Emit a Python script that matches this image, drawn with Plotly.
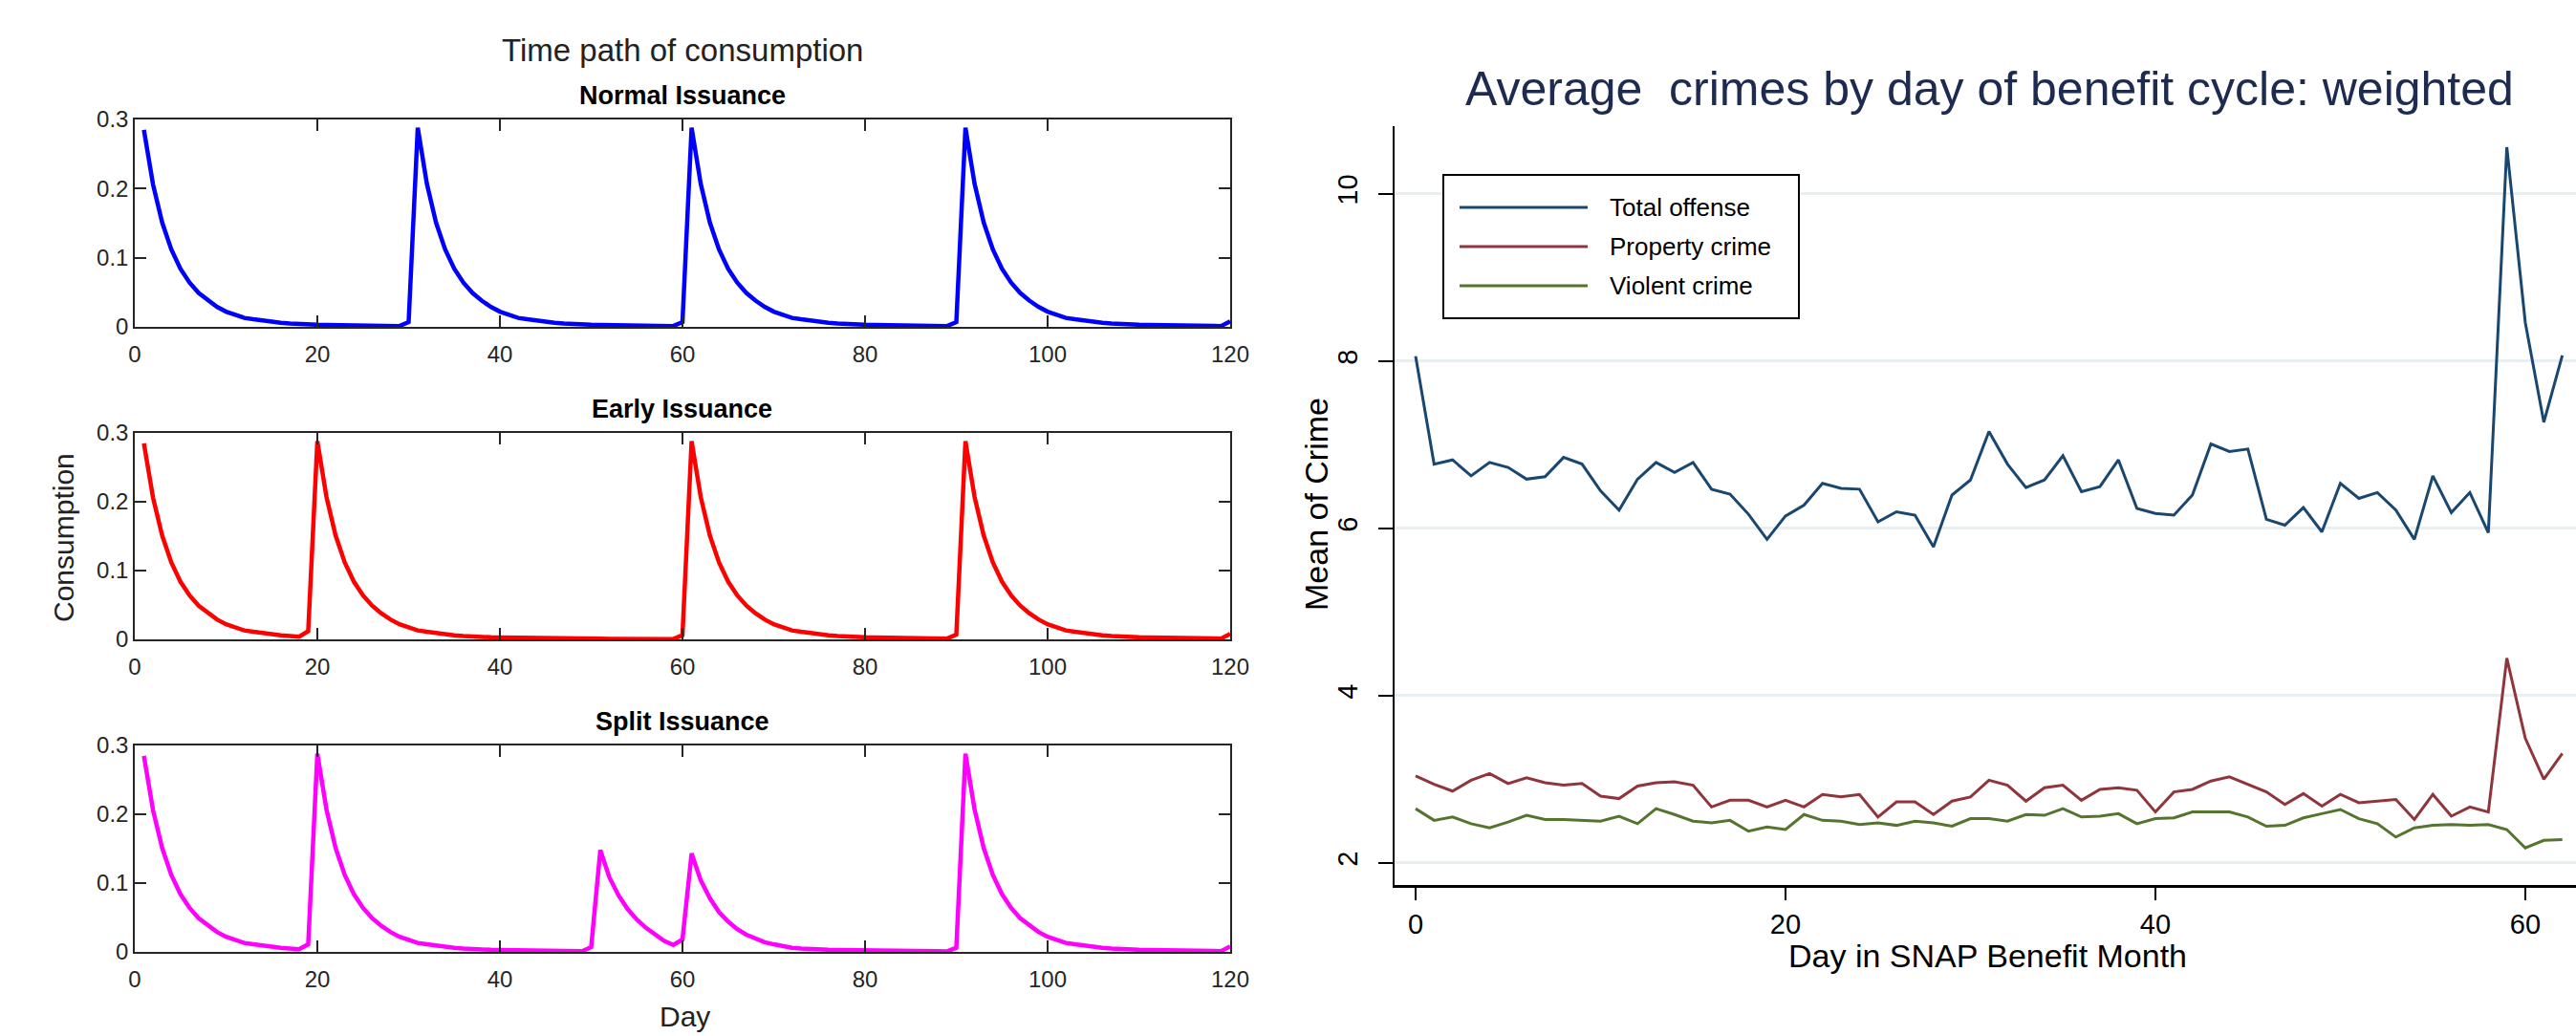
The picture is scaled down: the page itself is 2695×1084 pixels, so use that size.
import plotly.graph_objects as go

# ---------------- Left panel data: consumption paths (days 1..120) ----------------
days = list(range(1, 121))

normal_issuance = [
    0.285, 0.206, 0.151, 0.112, 0.084, 0.064, 0.049, 0.038, 0.029, 0.022,
    0.017, 0.013, 0.011, 0.009, 0.007, 0.006, 0.005, 0.004, 0.0035, 0.003,
    0.0027, 0.0024, 0.0021, 0.0019, 0.0017, 0.0015, 0.0014, 0.0013, 0.0012, 0.007,
    0.288, 0.207, 0.151, 0.112, 0.084, 0.064, 0.049, 0.038, 0.029, 0.022,
    0.017, 0.013, 0.011, 0.009, 0.007, 0.006, 0.005, 0.004, 0.0035, 0.003,
    0.0027, 0.0024, 0.0021, 0.0019, 0.0017, 0.0015, 0.0014, 0.0013, 0.0012, 0.007,
    0.288, 0.207, 0.151, 0.112, 0.084, 0.064, 0.049, 0.038, 0.029, 0.022,
    0.017, 0.013, 0.011, 0.009, 0.007, 0.006, 0.005, 0.004, 0.0035, 0.003,
    0.0027, 0.0024, 0.0021, 0.0019, 0.0017, 0.0015, 0.0014, 0.0013, 0.0012, 0.007,
    0.288, 0.207, 0.151, 0.112, 0.084, 0.064, 0.049, 0.038, 0.029, 0.022,
    0.017, 0.013, 0.011, 0.009, 0.007, 0.006, 0.005, 0.004, 0.0035, 0.003,
    0.0027, 0.0024, 0.0021, 0.0019, 0.0017, 0.0015, 0.0014, 0.0013, 0.0012, 0.008,
]

early_issuance = [
    0.285, 0.206, 0.151, 0.112, 0.084, 0.064, 0.049, 0.038, 0.029, 0.022,
    0.017, 0.013, 0.011, 0.009, 0.007, 0.006, 0.005, 0.004, 0.012,
    0.288, 0.207, 0.151, 0.112, 0.084, 0.064, 0.049, 0.038, 0.029, 0.022,
    0.017, 0.013, 0.011, 0.009, 0.007, 0.006, 0.005, 0.004, 0.0035, 0.003,
    0.0027, 0.0024, 0.0021, 0.0019, 0.0017, 0.0015, 0.0014, 0.0013, 0.0012, 0.0011,
    0.001, 0.0009, 0.0008, 0.0008, 0.0007, 0.0007, 0.0006, 0.0006, 0.0005, 0.0005,
    0.006,
    0.288, 0.207, 0.151, 0.112, 0.084, 0.064, 0.049, 0.038, 0.029, 0.022,
    0.017, 0.013, 0.011, 0.009, 0.007, 0.006, 0.005, 0.004, 0.0035, 0.003,
    0.0027, 0.0024, 0.0021, 0.0019, 0.0017, 0.0015, 0.0014, 0.0013, 0.0012, 0.007,
    0.288, 0.207, 0.151, 0.112, 0.084, 0.064, 0.049, 0.038, 0.029, 0.022,
    0.017, 0.013, 0.011, 0.009, 0.007, 0.006, 0.005, 0.004, 0.0035, 0.003,
    0.0027, 0.0024, 0.0021, 0.0019, 0.0017, 0.0015, 0.0014, 0.0013, 0.0012, 0.008,
]

split_issuance = [
    0.285, 0.206, 0.151, 0.112, 0.084, 0.064, 0.049, 0.038, 0.029, 0.022,
    0.017, 0.013, 0.011, 0.009, 0.007, 0.006, 0.005, 0.004, 0.011,
    0.288, 0.207, 0.151, 0.112, 0.084, 0.064, 0.049, 0.038, 0.029, 0.022,
    0.017, 0.013, 0.011, 0.009, 0.007, 0.006, 0.005, 0.004, 0.0035, 0.003,
    0.0027, 0.0024, 0.0021, 0.0019, 0.0017, 0.0015, 0.0014, 0.0013, 0.0012, 0.0011,
    0.007,
    0.148, 0.108, 0.082, 0.062, 0.047, 0.035, 0.025, 0.016, 0.010, 0.018,
    0.143, 0.104, 0.078, 0.058, 0.044, 0.033, 0.025, 0.019, 0.014, 0.011,
    0.008, 0.006, 0.005, 0.004, 0.0035, 0.003, 0.0027, 0.0024, 0.0021, 0.0019,
    0.0017, 0.0015, 0.0014, 0.0013, 0.0012, 0.0011, 0.001, 0.0009, 0.0008, 0.006,
    0.288, 0.207, 0.151, 0.112, 0.084, 0.064, 0.049, 0.038, 0.029, 0.022,
    0.017, 0.013, 0.011, 0.009, 0.007, 0.006, 0.005, 0.004, 0.0035, 0.003,
    0.0027, 0.0024, 0.0021, 0.0019, 0.0017, 0.0015, 0.0014, 0.0013, 0.0012, 0.008,
]

left_xticks = [0, 20, 40, 60, 80, 100, 120]
left_yticks = [0, 0.1, 0.2, 0.3]
left_yticklabels = ["0", "0.1", "0.2", "0.3"]

# ---------------- Right panel data: average crimes by day (0..62) ----------------
snap_day = list(range(0, 63))

total_offense = [
    8.06, 6.77, 6.82, 6.63, 6.79, 6.73, 6.59, 6.62, 6.85, 6.77,
    6.45, 6.22, 6.59, 6.79, 6.67, 6.79, 6.47, 6.41, 6.17, 5.87,
    6.15, 6.28, 6.54, 6.48, 6.47, 6.08, 6.20, 6.16, 5.78, 6.40,
    6.58, 7.16, 6.77, 6.49, 6.58, 6.87, 6.44, 6.50, 6.82, 6.24,
    6.18, 6.16, 6.40, 7.01, 6.92, 6.95, 6.11, 6.04, 6.25, 5.96,
    6.54, 6.36, 6.43, 6.22, 5.87, 6.63, 6.19, 6.43, 5.95, 10.56,
    8.46, 7.27, 8.07,
]

property_crime = [
    3.04, 2.94, 2.86, 2.99, 3.07, 2.95, 3.02, 2.96, 2.93, 2.95,
    2.80, 2.77, 2.92, 2.96, 2.97, 2.93, 2.67, 2.75, 2.75, 2.67,
    2.75, 2.67, 2.82, 2.79, 2.82, 2.55, 2.73, 2.73, 2.58, 2.74,
    2.79, 2.99, 2.93, 2.74, 2.90, 2.93, 2.75, 2.88, 2.90, 2.87,
    2.61, 2.85, 2.88, 2.98, 3.03, 2.94, 2.85, 2.70, 2.83, 2.68,
    2.82, 2.72, 2.74, 2.76, 2.52, 2.82, 2.56, 2.67, 2.61, 4.45,
    3.49, 3.00, 3.31,
]

violent_crime = [
    2.65, 2.51, 2.55, 2.47, 2.42, 2.49, 2.57, 2.52, 2.52, 2.51,
    2.50, 2.56, 2.47, 2.65, 2.58, 2.50, 2.48, 2.51, 2.38, 2.43,
    2.40, 2.58, 2.51, 2.50, 2.46, 2.48, 2.45, 2.50, 2.48, 2.44,
    2.53, 2.53, 2.50, 2.58, 2.57, 2.65, 2.55, 2.56, 2.59, 2.47,
    2.53, 2.54, 2.61, 2.61, 2.61, 2.55, 2.44, 2.45, 2.54, 2.59,
    2.64, 2.53, 2.47, 2.31, 2.42, 2.45, 2.46, 2.45, 2.46, 2.40,
    2.18, 2.27, 2.28,
]

right_xticks = [0, 20, 40, 60]
right_yticks = [2, 4, 6, 8, 10]
series_names = ["Total offense", "Property crime", "Violent crime"]
series_colors = ["#1a476f", "#90353b", "#55752f"]

FONT = "Liberation Sans, Arial, Helvetica, sans-serif"
W, H = 2695, 1084

fig = go.Figure()

# ---------------- left panel traces ----------------
left_series = [
    (normal_issuance, "#0000ff", "x", "y"),
    (early_issuance, "#ff0000", "x2", "y2"),
    (split_issuance, "#ff00ff", "x3", "y3"),
]
for vals, col, xa, ya in left_series:
    fig.add_trace(go.Scatter(x=days, y=vals, mode="lines",
                             line=dict(color=col, width=4.5),
                             xaxis=xa, yaxis=ya, showlegend=False,
                             hoverinfo="skip"))

# ---------------- right panel traces ----------------
for vals, name, col in zip([total_offense, property_crime, violent_crime],
                           series_names, series_colors):
    fig.add_trace(go.Scatter(x=snap_day, y=vals, mode="lines", name=name,
                             line=dict(color=col, width=3),
                             xaxis="x4", yaxis="y4", showlegend=False))

# ---------------- axes ----------------
axc = "#262626"
lx0, lx1 = 141 / W, 1287 / W


def ydom(top_px, bot_px):
    return [1 - bot_px / H, 1 - top_px / H]


left_x = dict(range=[0, 120], tickvals=left_xticks, ticks="inside", ticklen=12,
              tickwidth=1.5, tickcolor=axc, showline=True, linecolor=axc,
              linewidth=1.5, mirror="ticks", showgrid=False, zeroline=False,
              tickfont=dict(family=FONT, size=24, color=axc), automargin=False,
              ticklabelstandoff=6, domain=[lx0, lx1])
left_y = dict(range=[0, 0.3], tickvals=left_yticks, ticktext=left_yticklabels,
              ticks="inside", ticklen=12, tickwidth=1.5, tickcolor=axc,
              showline=True, linecolor=axc, linewidth=1.5, mirror="ticks",
              showgrid=False, zeroline=False, automargin=False,
              tickfont=dict(family=FONT, size=24, color=axc))

fig.update_layout(
    xaxis=dict(left_x, anchor="y"),
    yaxis=dict(left_y, anchor="x", domain=ydom(125, 342)),
    xaxis2=dict(left_x, anchor="y2"),
    yaxis2=dict(left_y, anchor="x2", domain=ydom(453, 669)),
    xaxis3=dict(left_x, anchor="y3"),
    yaxis3=dict(left_y, anchor="x3", domain=ydom(780, 996)),
    xaxis4=dict(domain=[1459 / W, 1.0], anchor="y4", range=[-1.137, 62.74],
                tickvals=right_xticks, ticks="outside", ticklen=13, tickwidth=2,
                tickcolor="black", showline=True, linecolor="black", linewidth=3,
                showgrid=False, zeroline=False, automargin=False,
                tickfont=dict(family=FONT, size=29, color="black")),
    yaxis4=dict(domain=ydom(132, 926), anchor="x4", range=[1.737, 10.811],
                tickvals=right_yticks, tickangle=-90, ticks="outside", ticklen=15,
                tickwidth=2, tickcolor="black", showline=True, linecolor="black",
                linewidth=2, showgrid=True, gridcolor="#e8eff2", gridwidth=2.5,
                zeroline=False, ticklabelstandoff=10, automargin=False,
                tickfont=dict(family=FONT, size=29, color="black")),
)

# ---------------- annotations (titles / labels) ----------------
ann = []


def A(text, xpx, ypx, size, color="#222222", bold=False, angle=0, xanchor="center"):
    ann.append(dict(text=("<b>%s</b>" % text) if bold else text,
                    x=xpx / W, y=1 - ypx / H, xref="paper", yref="paper",
                    xanchor=xanchor, yanchor="middle", showarrow=False,
                    textangle=angle,
                    font=dict(family=FONT, size=size, color=color)))


A("Time path of consumption", 714, 52, 33)
A("Normal Issuance", 714, 100, 27, color="#000000", bold=True)
A("Early Issuance", 714, 428, 27, color="#000000", bold=True)
A("Split Issuance", 714, 755, 27, color="#000000", bold=True)
A("Consumption", 66, 563, 30, angle=-90)
A("Day", 716, 1063, 30)

A("Average\u00a0\u00a0crimes by day of benefit cycle: weighted", 2081, 93, 50,
  color="#1c2b4f")
A("Mean of Crime", 1377, 528, 34, color="#000000", angle=-90)
A("Day in SNAP Benefit Month", 2079, 1000, 34, color="#000000")

# manual legend (Stata style)
leg_y = [217, 258, 299]
for name, col, ypx in zip(series_names, series_colors, leg_y):
    A(name, 1682, ypx, 26, color="#000000", xanchor="left")

shapes = [dict(type="rect", xref="paper", yref="paper",
               x0=1510 / W, x1=1882 / W, y0=1 - 333 / H, y1=1 - 183 / H,
               line=dict(color="black", width=2), fillcolor="white", layer="above")]
for col, ypx in zip(series_colors, leg_y):
    shapes.append(dict(type="line", xref="paper", yref="paper",
                       x0=1527 / W, x1=1661 / W, y0=1 - ypx / H, y1=1 - ypx / H,
                       line=dict(color=col, width=3), layer="above"))

fig.update_layout(
    autosize=True,
    margin=dict(l=0, r=0, t=0, b=0, pad=0, autoexpand=False),
    paper_bgcolor="white", plot_bgcolor="white",
    showlegend=False, annotations=ann, shapes=shapes,
    font=dict(family=FONT),
)

fig.write_html(
    "out.html",
    config={"displayModeBar": False},
    default_width="%dpx" % W,
    default_height="%dpx; position:absolute; left:0px; top:0px" % H,
    post_script="document.body.style.margin='0';document.body.style.overflow='hidden';",
)
